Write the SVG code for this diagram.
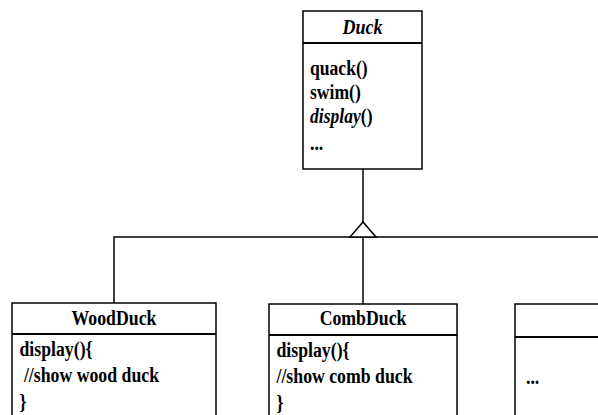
<svg xmlns="http://www.w3.org/2000/svg" width="598" height="415" viewBox="0 0 598 415">
  <style>
    .box { fill: #ffffff; stroke: #000000; stroke-width: 1.5; }
    .div { stroke: #000000; stroke-width: 2; }
    .line { fill: none; stroke: #000000; stroke-width: 1.5; }
    .head { fill: #ffffff; stroke: #000000; stroke-width: 1.5; }
    text { font-family: 'Liberation Serif', 'Times New Roman', Times, 'DejaVu Serif', serif; font-weight: bold; fill: #000000; }
    .s20 { font-size: 20px; }
    .s21 { font-size: 21px; }
    .mid { text-anchor: middle; }
    .it { font-style: italic; }
  </style>
  <rect width="598" height="415" fill="#ffffff"/>

  <!-- generalization connectors -->
  <g id="connectors">
    <path class="line" d="M363,169 V222"/>
    <path class="line" d="M114,303 V237 H598"/>
    <path class="line" d="M363,237 V304"/>
    <polygon class="head" points="363,222 350,237 376,237"/>
  </g>

  <!-- abstract base class -->
  <g id="Duck">
    <rect class="box" x="303" y="11" width="119" height="158"/>
    <line class="div" x1="303" y1="43" x2="422" y2="43"/>
    <text class="s20 mid it" transform="translate(362.5,33.5) scale(0.9,1)">Duck</text>
    <text class="s20" transform="translate(310,75) scale(0.88,1)">quack()</text>
    <text class="s20" transform="translate(310,99) scale(0.88,1)">swim()</text>
    <text class="s20" transform="translate(310,123) scale(0.88,1)"><tspan class="it">display</tspan>()</text>
    <text class="s20" transform="translate(310,150) scale(0.88,1)">...</text>
  </g>

  <g id="WoodDuck">
    <rect class="box" x="12" y="303" width="204" height="120"/>
    <line class="div" x1="12" y1="334" x2="216" y2="334"/>
    <text class="s21 mid" transform="translate(114,325) scale(0.845,1)">WoodDuck</text>
    <text class="s21" transform="translate(19.5,356) scale(0.845,1)">display(){</text>
    <text class="s21" transform="translate(19.5,382) scale(0.845,1)" xml:space="preserve"> //show wood duck</text>
    <text class="s21" transform="translate(19.5,409) scale(0.845,1)">}</text>
  </g>

  <g id="CombDuck">
    <rect class="box" x="269" y="304" width="188" height="120"/>
    <line class="div" x1="269" y1="335" x2="457" y2="335"/>
    <text class="s21 mid" transform="translate(363,325) scale(0.845,1)">CombDuck</text>
    <text class="s21" transform="translate(276.5,357) scale(0.845,1)">display(){</text>
    <text class="s21" transform="translate(276.5,383) scale(0.845,1)">//show comb duck</text>
    <text class="s21" transform="translate(276.5,410) scale(0.845,1)">}</text>
  </g>

  <g id="OtherDuck">
    <rect class="box" x="515" y="304" width="100" height="120"/>
    <line class="div" x1="515" y1="337" x2="615" y2="337"/>
    <text class="s21" transform="translate(526,384) scale(0.845,1)">...</text>
  </g>
</svg>
